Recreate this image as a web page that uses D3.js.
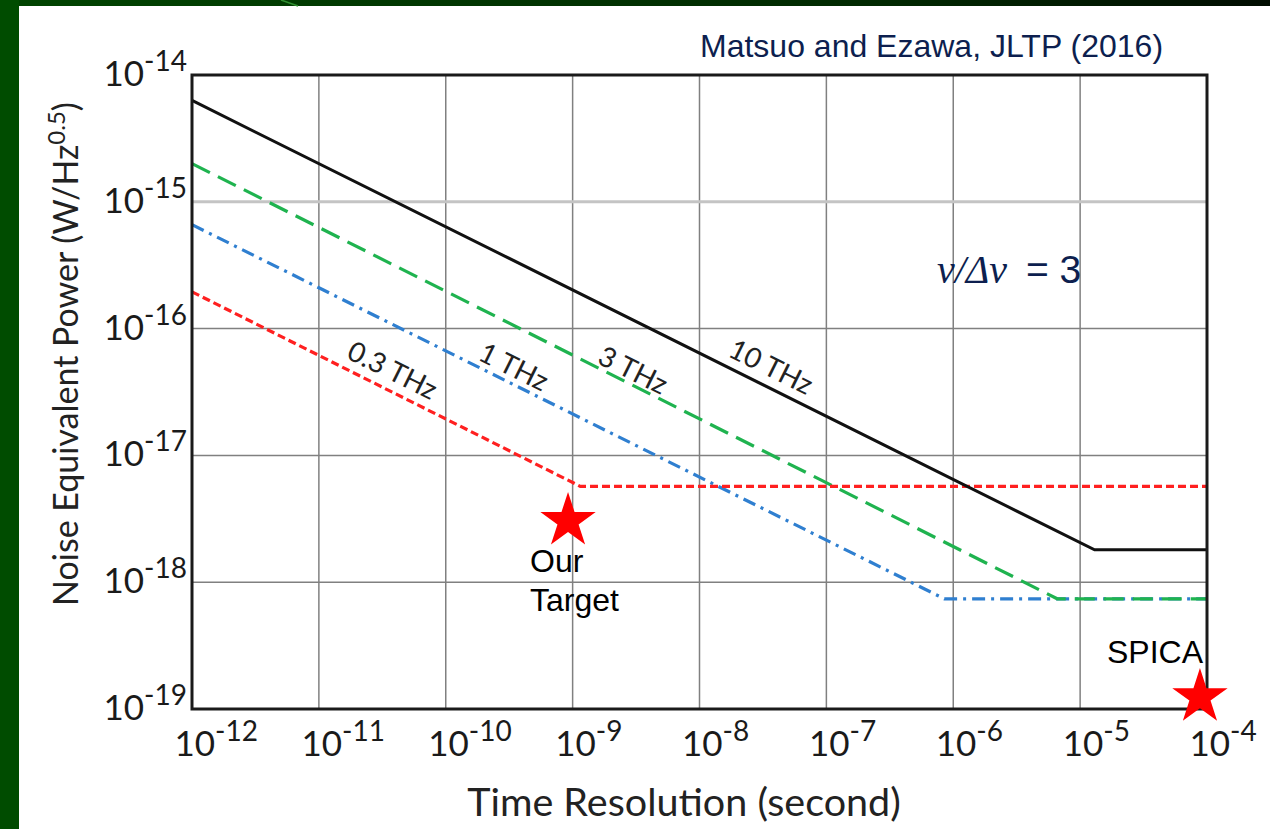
<!DOCTYPE html>
<html><head><meta charset="utf-8">
<script src="https://cdn.jsdelivr.net/npm/d3@7"></script>
<style>
html,body{margin:0;padding:0;background:#fff;overflow:hidden}
svg{display:block}
</style></head><body>
<svg id="c" width="1270" height="829"></svg>
<script>
// ---------- data ----------
const xTickValues = [1e-12, 1e-11, 1e-10, 1e-9, 1e-8, 1e-7, 1e-6, 1e-5, 1e-4];
const yTickValues = [1e-19, 1e-18, 1e-17, 1e-16, 1e-15, 1e-14];
const xTickExponents = ["-12","-11","-10","-9","-8","-7","-6","-5","-4"];
const yTickExponents = ["-19","-18","-17","-16","-15","-14"];

const seriesNames = ["1 THz", "3 THz", "0.3 THz", "10 THz"];
const tau1THz   = [1e-12, 8.5e-7, 1e-4];
const nep1THz   = [6.6e-16, 7.4e-19, 7.4e-19];
const tau3THz   = [1e-12, 6.6e-6, 1e-4];
const nep3THz   = [2.0e-15, 7.4e-19, 7.4e-19];
const tau03THz  = [1e-12, 1.15e-9, 1e-4];
const nep03THz  = [1.95e-16, 5.7e-18, 5.7e-18];
const tau10THz  = [1e-12, 1.3e-5, 1e-4];
const nep10THz  = [6.3e-15, 1.8e-18, 1.8e-18];

const labelText = ["0.3 THz", "1 THz", "3 THz", "10 THz"];
const labelTau  = [3.8e-11, 3.44e-10, 2.99e-9, 3.66e-8];
const labelNep  = [4.7e-17, 5.0e-17, 4.7e-17, 5.0e-17];

const starNames = ["Our Target", "SPICA"];
const starTau   = [9.2e-10, 8.8e-5];
const starNep   = [3.04e-18, 1.24e-19];

// ---------- setup ----------
const W = 1270, H = 829;
const svg = d3.select("#c");
const calib = "Lato, 'Open Sans', sans-serif";
const arial = "'Liberation Sans', Arial, sans-serif";
const navy = "#0d1f4f";

// background frame
const defs = svg.append("defs");
const g1 = defs.append("linearGradient").attr("id","topg").attr("x1","0").attr("x2","1");
g1.append("stop").attr("offset","0").attr("stop-color","#004400");
g1.append("stop").attr("offset","0.7").attr("stop-color","#002800");
g1.append("stop").attr("offset","1").attr("stop-color","#000c00");
svg.append("rect").attr("width",W).attr("height",H).attr("fill","#fff");
svg.append("rect").attr("x",0).attr("y",0).attr("width",W).attr("height",6).attr("fill","url(#topg)");
svg.append("rect").attr("x",0).attr("y",0).attr("width",19).attr("height",H).attr("fill","#004c00");
svg.append("line").attr("x1",281).attr("y1",0).attr("x2",298).attr("y2",6)
  .attr("stroke","#2f8f2f").attr("stroke-width",1.5);

const L = 192, R = 1207, T = 75, B = 709;
const x = d3.scaleLog().domain([1e-12, 1e-4]).range([L, R]);
const y = d3.scaleLog().domain([1e-19, 1e-14]).range([B, T]);

// grid
const grid = svg.append("g");
grid.selectAll("line.vx").data(xTickValues.slice(1, -1)).join("line")
  .attr("x1", d => x(d)).attr("x2", d => x(d)).attr("y1", T).attr("y2", B)
  .attr("stroke", "#808080").attr("stroke-width", 1.5);
grid.selectAll("line.hy").data(yTickValues.slice(1, -1)).join("line")
  .attr("x1", L).attr("x2", R).attr("y1", d => y(d)).attr("y2", d => y(d))
  .attr("stroke", d => d === 1e-15 ? "#c4c4c4" : "#808080")
  .attr("stroke-width", d => d === 1e-15 ? 3 : 1.5);

// series lines
const lineGen = d3.line().x(d => x(d[0])).y(d => y(d[1]));
const series = [
  {name: "1 THz",   tau: tau1THz,  nep: nep1THz,  color: "#2f7fd0", dash: "13,6,3,6", w: 3.2},
  {name: "3 THz",   tau: tau3THz,  nep: nep3THz,  color: "#1fb34f", dash: "20,9", w: 3.2},
  {name: "0.3 THz", tau: tau03THz, nep: nep03THz, color: "#ff2020", dash: "8,4", w: 3.2},
  {name: "10 THz",  tau: tau10THz, nep: nep10THz, color: "#111111", dash: null, w: 3}
];
svg.append("g").selectAll("path").data(series).join("path")
  .attr("d", s => lineGen(s.tau.map((t, i) => [t, s.nep[i]])))
  .attr("fill", "none")
  .attr("stroke", s => s.color)
  .attr("stroke-width", s => s.w)
  .attr("stroke-dasharray", s => s.dash);

// border
svg.append("rect").attr("x", L).attr("y", T).attr("width", R - L).attr("height", B - T)
  .attr("fill", "none").attr("stroke", "#1a1a1a").attr("stroke-width", 3);

// axes
const xAxis = svg.append("g").attr("transform", `translate(0,${B})`)
  .call(d3.axisBottom(x).tickValues(xTickValues).tickSize(0).tickFormat(() => ""));
xAxis.select(".domain").remove();
xAxis.selectAll(".tick text").each(function(d, i) {
  const t = d3.select(this).attr("y", 47).attr("dy", null).attr("x", -18)
    .attr("text-anchor", "start").attr("font-family", calib).attr("font-size", 35).attr("fill", "#1a1a1a");
  t.append("tspan").text("10");
  t.append("tspan").attr("dy", -15).attr("font-size", 28).text(xTickExponents[i]);
});
const yAxis = svg.append("g").attr("transform", `translate(${L},0)`)
  .call(d3.axisLeft(y).tickValues(yTickValues).tickSize(0).tickFormat(() => ""));
yAxis.select(".domain").remove();
yAxis.selectAll(".tick text").each(function(d, i) {
  const t = d3.select(this).attr("x", -5).attr("dy", "0.3em")
    .attr("text-anchor", "end").attr("font-family", calib).attr("font-size", 35).attr("fill", "#1a1a1a");
  t.append("tspan").text("10");
  t.append("tspan").attr("dy", -15).attr("font-size", 28).text(yTickExponents[i]);
});

// axis titles
svg.append("text").attr("x", 684).attr("y", 816).attr("text-anchor", "middle")
  .attr("font-family", calib).attr("font-size", 39.5).attr("fill", "#222")
  .text("Time Resolution (second)");
const yt = svg.append("text").attr("transform", "translate(78,354) rotate(-90)")
  .attr("text-anchor", "middle").attr("font-family", calib).attr("font-size", 34).attr("fill", "#222");
yt.append("tspan").text("Noise Equivalent Power (W/Hz");
yt.append("tspan").attr("dy", -13).attr("font-size", 24).text("0.5");
yt.append("tspan").attr("dy", 13).text(")");

// line labels, rotated along the slope
const angle = Math.atan2(y(nep10THz[1]) - y(nep10THz[0]), x(tau10THz[1]) - x(tau10THz[0])) * 180 / Math.PI;
svg.append("g").selectAll("text").data(labelText).join("text")
  .attr("transform", (d, i) => `translate(${x(labelTau[i])},${y(labelNep[i])}) rotate(${angle})`)
  .attr("text-anchor", "middle").attr("dy", "0.35em")
  .attr("font-family", calib).attr("font-size", 28).attr("fill", "#222")
  .text(d => d);

// stars
const star = d3.symbol().type(d3.symbolStar).size(950);
svg.append("g").selectAll("path").data(starNames).join("path")
  .attr("d", star)
  .attr("transform", (d, i) => `translate(${x(starTau[i])},${y(starNep[i])})`)
  .attr("fill", "#ff0000");

// star annotations
const tgt = svg.append("text").attr("font-family", arial).attr("font-size", 32).attr("fill", "#000");
tgt.append("tspan").attr("x", 530).attr("y", 572).text("Our");
tgt.append("tspan").attr("x", 530).attr("y", 611).text("Target");
svg.append("text").attr("x", 1107).attr("y", 663).attr("font-family", arial).attr("font-size", 32)
  .attr("fill", "#000").text("SPICA");

// citation and ratio
svg.append("text").attr("x", 700).attr("y", 57).attr("font-family", arial).attr("font-size", 32)
  .attr("fill", navy).text("Matsuo and Ezawa, JLTP (2016)");
svg.append("text").attr("x", 937).attr("y", 283).attr("font-family", "'Liberation Serif', 'Times New Roman', serif")
  .attr("font-style", "italic").attr("font-size", 40).attr("fill", navy).text("ν/Δν");
svg.append("text").attr("x", 1026).attr("y", 283).attr("font-family", arial).attr("font-size", 39)
  .attr("fill", navy).text("= 3");
</script>
</body></html>
